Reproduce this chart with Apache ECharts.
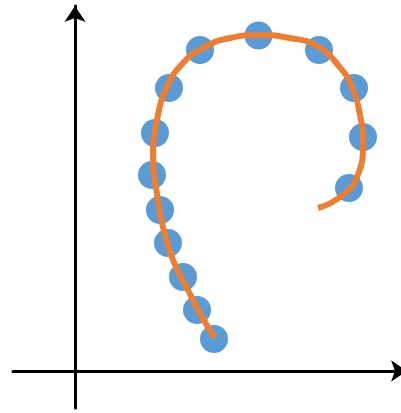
<!DOCTYPE html>
<html>
<head>
<meta charset="utf-8">
<script src="https://cdn.jsdelivr.net/npm/echarts@6/dist/echarts.min.js"></script>
<style>html,body{margin:0;padding:0;background:#fff}#c{width:401px;height:413px}</style>
</head>
<body>
<div id="c"></div>
<script>
// Observed points (x, y)
const pointsX = [139, 122, 108, 93, 85, 77, 80, 94, 125, 183.5, 244, 279, 288, 274];
const pointsY = [32, 61, 94, 128, 161, 196, 238, 283, 321, 335.5, 321, 283, 234, 183];
// Fitted curve (x, y)
const curveX = [140, 127, 113, 98, 88, 81, 78, 82, 92, 108, 128, 155, 185, 215, 242, 263, 277, 285, 288, 282, 265, 243];
const curveY = [33, 54, 81, 111, 144, 184, 213, 251, 284, 308, 323, 333, 336, 333, 325, 306, 284, 256, 228, 194, 174, 163];

const chart = echarts.init(document.getElementById('c'), null, {renderer: 'canvas'});
const axisCommon = {
  type: 'value',
  interval: 1,
  axisLine: {show: true, onZero: true, symbol: ['none', 'arrow'], symbolSize: [16, 16], lineStyle: {color: '#000', width: 3}},
  axisTick: {show: false},
  axisLabel: {show: false},
  splitLine: {show: false}
};
chart.setOption({
  animation: false,
  backgroundColor: '#fff',
  grid: {left: 13, top: 6, width: 394, height: 402, containLabel: false, outerBoundsMode: 'none'},
  xAxis: Object.assign({}, axisCommon, {min: -62, max: 332}),
  yAxis: Object.assign({}, axisCommon, {min: -37, max: 365}),
  series: [
    {
      type: 'scatter',
      data: pointsX.map((x, i) => [x, pointsY[i]]),
      symbolSize: 28,
      itemStyle: {color: '#5B9BD5', opacity: 1},
      z: 2
    },
    {
      type: 'line',
      data: curveX.map((x, i) => [x, curveY[i]]),
      smooth: 0.5,
      showSymbol: false,
      symbol: 'none',
      lineStyle: {color: '#ED7D31', width: 6},
      z: 3
    }
  ]
});
</script>
</body>
</html>
